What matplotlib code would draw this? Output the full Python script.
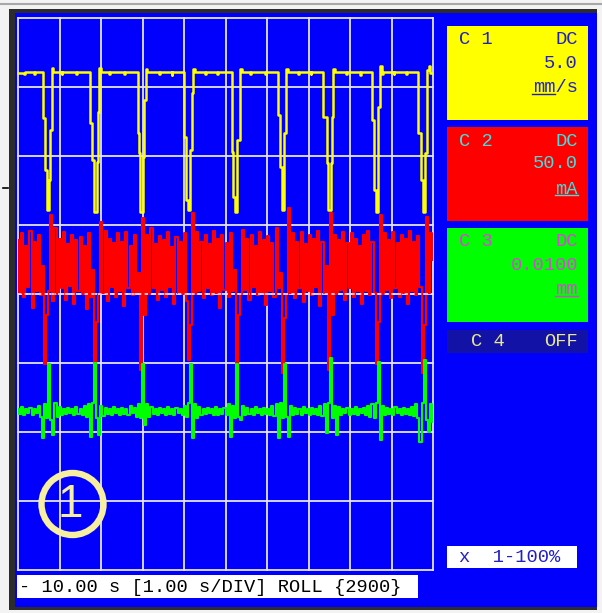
import numpy as np
import matplotlib
matplotlib.use("Agg")
import matplotlib.pyplot as plt
from matplotlib.patches import Rectangle, Circle

# ---------------- data (screen divisions, 0 = bottom, 8 = top) ----------------
# C1 (yellow, 5.0 mm/s per div) step trace: breakpoints (time s, level div)
c1_t = [-10.00, -9.86, -9.83, -9.62, -9.60,
        -9.390, -9.349, -9.308, -9.253, -9.229, -9.188, -9.157,
        -8.95, -8.93, -8.60, -8.58,
        -8.265, -8.210, -8.169, -8.104, -8.080, -8.048, -8.012,
        -7.80, -7.78, -7.45, -7.42,
        -7.116, -7.077, -7.060, -6.981, -6.964, -6.923, -6.892,
        -6.60, -6.58, -6.30, -6.28,
        -5.993, -5.952, -5.896, -5.855, -5.814, -5.776, -5.735,
        -5.50, -5.48, -5.20, -5.17,
        -4.851, -4.812, -4.771, -4.716, -4.651, -4.614,
        -4.40, -4.38, -4.05, -4.03,
        -3.728, -3.687, -3.646, -3.590, -3.542, -3.506,
        -3.25, -3.23, -2.95, -2.93,
        -2.643, -2.561, -2.523, -2.465, -2.441, -2.402, -2.361,
        -2.10, -2.08, -1.75, -1.73,
        -1.477, -1.422, -1.373, -1.318, -1.277, -1.236, -1.205,
        -0.95, -0.93, -0.65, -0.63,
        -0.354, -0.296, -0.248, -0.193, -0.152, -0.108, -0.072, 0.0]
c1_v = [7.21, 7.19, 7.22, 7.19, 7.22,
        6.55, 5.80, 5.22, 5.65, 6.38, 7.27, 7.22,
        7.19, 7.22, 7.19, 7.22,
        6.48, 5.94, 5.19, 5.91, 6.64, 7.27, 7.22,
        7.19, 7.22, 7.19, 7.22,
        6.33, 6.04, 5.19, 5.99, 6.81, 7.26, 7.22,
        7.19, 7.22, 7.18, 7.22,
        6.28, 5.36, 5.22, 6.09, 6.91, 7.26, 7.22,
        7.19, 7.22, 7.19, 7.22,
        6.06, 5.41, 5.19, 6.23, 7.26, 7.22,
        7.19, 7.22, 7.19, 7.22,
        6.59, 5.84, 5.22, 6.33, 7.26, 7.22,
        7.19, 7.22, 7.19, 7.22,
        6.57, 5.90, 5.22, 5.90, 6.57, 7.26, 7.22,
        7.19, 7.22, 7.18, 7.22,
        6.52, 5.51, 5.19, 6.71, 7.30, 7.19, 7.22,
        7.19, 7.22, 7.19, 7.22,
        6.33, 5.65, 5.19, 6.04, 7.25, 7.30, 7.20, 7.20]

# C2 (red, 50.0 mA per div) sampled trace, 200 samples over the 10 s window
c2_v = [4.78, 4.02, 4.88, 3.95, 4.70, 4.10, 4.92, 3.80, 4.75, 4.05,
        4.85, 3.98, 4.40, 2.98, 3.70, 4.05, 5.15, 3.90, 4.95, 4.00,
        4.80, 4.08, 4.90, 3.92, 4.72, 4.12, 4.86, 3.85, 4.78, 4.05,
        4.83, 4.00, 4.70, 3.78, 4.88, 3.95, 4.35, 2.72, 3.60, 4.00,
        5.05, 4.02, 4.92, 3.90, 4.80, 4.10, 4.74, 3.96, 4.88, 4.05,
        4.76, 3.82, 4.90, 4.08, 4.70, 3.98, 4.85, 4.03, 4.30, 2.90,
        5.10, 3.70, 4.85, 4.00, 4.95, 4.08, 4.72, 3.92, 4.84, 4.06,
        4.78, 3.96, 4.90, 4.10, 4.68, 3.86, 4.82, 4.02, 4.75, 4.00,
        4.88, 3.90, 3.05, 3.55, 5.18, 4.00, 4.90, 4.05, 4.76, 3.94,
        4.86, 4.08, 4.72, 3.98, 4.92, 4.02, 4.80, 3.80, 4.85, 4.06,
        4.74, 3.96, 4.88, 4.04, 4.35, 2.88, 3.70, 4.00, 4.93, 4.06,
        4.80, 3.92, 4.86, 4.10, 4.70, 3.98, 4.90, 4.03, 4.78, 3.84,
        4.84, 4.05, 4.74, 3.96, 4.95, 4.08, 4.30, 2.86, 3.65, 4.00,
        5.25, 4.02, 4.88, 3.94, 4.76, 4.08, 4.90, 3.88, 4.72, 4.04,
        4.86, 3.98, 4.80, 4.10, 4.92, 3.82, 4.75, 4.02, 4.40, 2.90,
        5.17, 3.70, 4.86, 4.00, 4.78, 4.06, 4.90, 3.92, 4.74, 4.08,
        4.88, 3.96, 4.80, 4.04, 4.70, 3.85, 4.85, 4.05, 4.92, 3.98,
        4.76, 4.02, 2.98, 3.60, 5.15, 4.00, 4.88, 4.06, 4.78, 3.94,
        4.90, 4.08, 4.74, 3.96, 4.86, 4.02, 4.80, 3.86, 4.92, 4.04,
        4.76, 3.98, 4.84, 4.10, 2.85, 3.55, 5.12, 4.02, 4.88, 4.50]

# C3 (green, 0.0100 mm per div) sampled trace, 200 samples
c3_v = [2.34, 2.26, 2.36, 2.25, 2.33, 2.27, 2.35, 2.24, 2.34, 2.27,
        2.38, 2.22, 1.91, 2.40, 2.20, 2.99, 2.18, 1.96, 2.42, 2.22,
        2.36, 2.25, 2.34, 2.26, 2.35, 2.27, 2.33, 2.25, 2.36, 2.26,
        2.34, 2.24, 2.37, 2.22, 2.40, 1.93, 2.42, 3.00, 2.20, 1.96,
        2.38, 2.23, 2.35, 2.26, 2.34, 2.25, 2.36, 2.27, 2.33, 2.24,
        2.35, 2.26, 2.34, 2.25, 2.37, 2.27, 2.35, 2.22, 2.40, 2.20,
        2.98, 2.10, 2.40, 2.22, 2.36, 2.26, 2.34, 2.25, 2.35, 2.27,
        2.34, 2.24, 2.36, 2.26, 2.33, 2.25, 2.35, 2.27, 2.34, 2.24,
        2.38, 2.22, 2.42, 2.99, 1.91, 2.40, 2.20, 2.36, 2.25, 2.34,
        2.26, 2.35, 2.27, 2.33, 2.25, 2.36, 2.24, 2.34, 2.26, 2.35,
        2.25, 2.40, 1.93, 2.38, 2.20, 2.98, 2.22, 2.17, 2.38, 2.24,
        2.35, 2.26, 2.34, 2.25, 2.36, 2.27, 2.33, 2.24, 2.35, 2.26,
        2.34, 2.25, 2.37, 2.23, 2.40, 1.91, 2.42, 2.20, 2.98, 2.22,
        1.93, 2.38, 2.24, 2.35, 2.26, 2.34, 2.25, 2.36, 2.27, 2.33,
        2.25, 2.35, 2.26, 2.34, 2.24, 2.37, 2.23, 2.40, 1.99, 2.42,
        3.07, 2.20, 2.38, 1.96, 2.36, 2.25, 2.34, 2.27, 2.35, 2.24,
        2.33, 2.26, 2.36, 2.25, 2.34, 2.27, 2.35, 2.24, 2.37, 2.22,
        2.40, 2.21, 2.42, 3.01, 1.88, 2.38, 2.24, 2.35, 2.26, 2.34,
        2.25, 2.36, 2.27, 2.33, 2.25, 2.35, 2.26, 2.34, 2.24, 2.36,
        2.23, 2.40, 2.20, 1.85, 2.42, 3.04, 2.18, 2.00, 2.40, 2.15]

time_window = (-10.0, 0.0)
n_div_x, n_div_y = 10, 8

channels = ["C 1", "C 2", "C 3"]
couplings = ["DC", "DC", "DC"]
scales = ["5.0", "50.0", "0.0100"]
units = ["mm/s", "mA", "mm"]
c4_label = ("C 4", "OFF")
time_label = "- 10.00 s [1.00 s/DIV] ROLL {2900}"
zoom_label = "x  1-100%"
marker_label = "1"

# ---------------- figure ----------------
W, H = 602, 613
fig = plt.figure(figsize=(W / 100, H / 100), dpi=100, facecolor="#f3f3f3")
bg = fig.add_axes([0, 0, 1, 1])
bg.set_xlim(0, W)
bg.set_ylim(H, 0)
bg.axis("off")

BLUE = "#0000fc"
mono = "Liberation Mono"

# window frame
bg.plot([0, W], [4, 4], color="#a8a8a8", lw=1.5)
bg.add_patch(Rectangle((9, 9), 588, 601, facecolor="#2c2c2c", edgecolor="none"))
bg.add_patch(Rectangle((15, 13), 582, 594, facecolor=BLUE, edgecolor="none"))
bg.plot([3, 8], [188, 188], color="black", lw=1.2)

# channel boxes
box_cols = ["#ffff00", "#ff0000", "#00ff00"]
txt_cols = ["#2020c8", "#40e0e0", "#e040e0"]
box_tops = [26, 127, 228]
for ch, cp, sc, un, bc, tc, y0 in zip(channels, couplings, scales, units,
                                      box_cols, txt_cols, box_tops):
    bg.add_patch(Rectangle((447, y0), 141, 94, facecolor=bc, edgecolor="none"))
    bg.text(459, y0 + 14, ch, family=mono, fontsize=13.5, color=tc,
            ha="left", va="center")
    bg.text(578, y0 + 14, cp, family=mono, fontsize=13.5, color=tc,
            ha="right", va="center")
    bg.text(578, y0 + 37, sc, family=mono, fontsize=13.5, color=tc,
            ha="right", va="center")
    bg.text(578, y0 + 62, un, family=mono, fontsize=13.5, color=tc,
            ha="right", va="center")
    nunder = 2
    bg.plot([578 - 11.4 * len(un), 578 - 11.4 * (len(un) - nunder)],
            [y0 + 68, y0 + 68], color=tc, lw=1.0)

# C4 bar
bg.add_patch(Rectangle((447, 330), 141, 23, facecolor="#1212a6", edgecolor="none"))
bg.text(471, 342, c4_label[0], family=mono, fontsize=13.5, color="#e8e890",
        ha="left", va="center")
bg.text(578, 342, c4_label[1], family=mono, fontsize=13.5, color="#e8e890",
        ha="right", va="center")

# zoom box
bg.add_patch(Rectangle((447, 546), 130, 22, facecolor="white", edgecolor="none"))
bg.text(459, 557.5, zoom_label, family=mono, fontsize=13.5, color="#2020c8",
        ha="left", va="center")

# time base box
bg.add_patch(Rectangle((17, 575), 401, 23, facecolor="white", edgecolor="none"))
bg.text(19, 588, time_label, family=mono, fontsize=13.5, color="black",
        ha="left", va="center")

# ---------------- trace area ----------------
gx0, gx1, gy0, gy1 = 18, 433, 18, 570
ax = fig.add_axes([gx0 / W, (H - gy1) / H, (gx1 - gx0) / W, (gy1 - gy0) / H])
ax.set_facecolor("none")
ax.set_xlim(*time_window)
ax.set_ylim(0, n_div_y)
ax.axis("off")

GRID = "#e4e4fa"
for k in range(n_div_x + 1):
    ax.axvline(time_window[0] + k, color=GRID, lw=1.3, zorder=1, clip_on=False)
for k in range(n_div_y + 1):
    ax.axhline(k, color=GRID, lw=1.3, zorder=1, clip_on=False)

t_samp = np.linspace(time_window[0], time_window[1], len(c2_v))
ax.plot(t_samp, c2_v, color="#ff0000", lw=1.5, drawstyle="steps-mid", zorder=2)
ax.axhline(4, color=GRID, lw=1.2, ls=(0, (2, 2)), zorder=2.5)
ax.plot(t_samp, c3_v, color="#00ff00", lw=1.5, drawstyle="steps-mid", zorder=3)
ax.plot(c1_t, c1_v, color="#ffff00", lw=1.8, drawstyle="steps-post", zorder=4)

# circled marker
ov = fig.add_axes([0, 0, 1, 1])
ov.set_facecolor("none")
ov.set_xlim(0, W)
ov.set_ylim(H, 0)
ov.axis("off")
ov.add_patch(Circle((72.5, 504), 31, facecolor="none", edgecolor="#f6eea0", lw=4.6))
ov.text(70, 505, marker_label, family="Liberation Sans", fontsize=33,
        color="#f6eea0", ha="center", va="center")

fig.savefig("out.png", dpi=100, facecolor=fig.get_facecolor())
